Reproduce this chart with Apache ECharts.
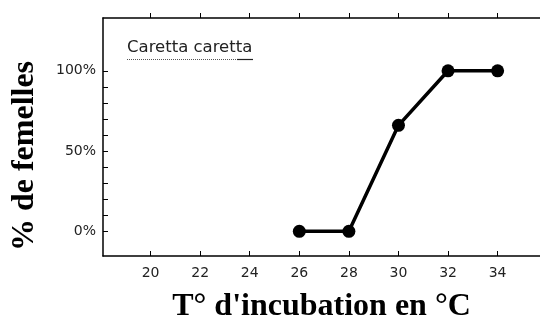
<!DOCTYPE html>
<html>
<head>
<meta charset="utf-8">
<script src="https://cdn.jsdelivr.net/npm/echarts@6/dist/echarts.min.js"></script>
<style>
html,body{margin:0;padding:0;background:#fff;}
#chart{width:540px;height:322px;}
</style>
</head>
<body>
<div id="chart"></div>
<script>
const temperatures = [26, 28, 30, 32, 34];
const femalePct = [0, 0, 66, 100, 100];
const xTickValues = [20, 22, 24, 26, 28, 30, 32, 34];
const yLabelValues = [0, 50, 100];
const yTickValues = [0, 10, 20, 30, 40, 50, 60, 70, 80, 90, 100];
const speciesLabel = 'Caretta caretta';
const xTitle = "T° d'incubation en °C";
const yTitle = '% de femelles';

const chart = echarts.init(document.getElementById('chart'), null, {renderer: 'canvas'});
const labelFont = {color: '#222', fontFamily: 'DejaVu Sans', fontSize: 14};
const option = {
  animation: false,
  backgroundColor: '#fff',
  grid: {left: 103, right: 0, top: 18, bottom: 66, containLabel: false, outerBoundsMode: 'none'},
  xAxis: [{
    type: 'value', position: 'bottom',
    min: 18.08, max: 35.71,
    axisLine: {show: true, onZero: false, lineStyle: {color: '#000', width: 1.5}},
    axisTick: {show: true, inside: true, length: 5, customValues: xTickValues, lineStyle: {color: '#000', width: 1}},
    axisLabel: Object.assign({customValues: xTickValues, margin: 10}, labelFont),
    splitLine: {show: false},
    name: xTitle, nameLocation: 'middle', nameGap: 35,
    nameTextStyle: {fontFamily: 'Liberation Serif', fontWeight: 'bold', fontSize: 32, color: '#000'}
  }, {
    type: 'value', position: 'top',
    min: 18.08, max: 35.71,
    axisLine: {show: true, onZero: false, lineStyle: {color: '#000', width: 1.5}},
    axisTick: {show: true, inside: false, length: 5, customValues: xTickValues, lineStyle: {color: '#000', width: 1}},
    axisLabel: {show: false},
    splitLine: {show: false}
  }],
  yAxis: {
    type: 'value',
    min: -15.4, max: 132.9,
    axisLine: {show: true, onZero: false, lineStyle: {color: '#000', width: 1.5}},
    axisTick: {show: true, inside: true, length: 5, customValues: yTickValues, lineStyle: {color: '#000', width: 1}},
    axisLabel: Object.assign({customValues: yLabelValues, margin: 7, formatter: '{value}%'}, labelFont),
    splitLine: {show: false},
    name: yTitle, nameLocation: 'middle', nameGap: 62,
    nameTextStyle: {fontFamily: 'Liberation Serif', fontWeight: 'bold', fontSize: 32, color: '#000', padding: [0, 38, 0, 0]}
  },
  graphic: [
    {type: 'text', left: 127, top: 39, style: {text: speciesLabel, fill: '#222', font: '16.5px "DejaVu Sans"'}},
    {type: 'line', shape: {x1: 127, y1: 59.5, x2: 237, y2: 59.5}, style: {stroke: '#555', lineWidth: 1, lineDash: [1, 1]}},
    {type: 'line', shape: {x1: 237, y1: 59.5, x2: 253, y2: 59.5}, style: {stroke: '#222', lineWidth: 1.2}}
  ],
  series: [{
    type: 'line',
    data: temperatures.map((t, i) => [t, femalePct[i]]),
    symbol: 'circle', symbolSize: 13,
    lineStyle: {color: '#000', width: 3.5},
    itemStyle: {color: '#000'}
  }]
};
chart.setOption(option);
</script>
</body>
</html>
